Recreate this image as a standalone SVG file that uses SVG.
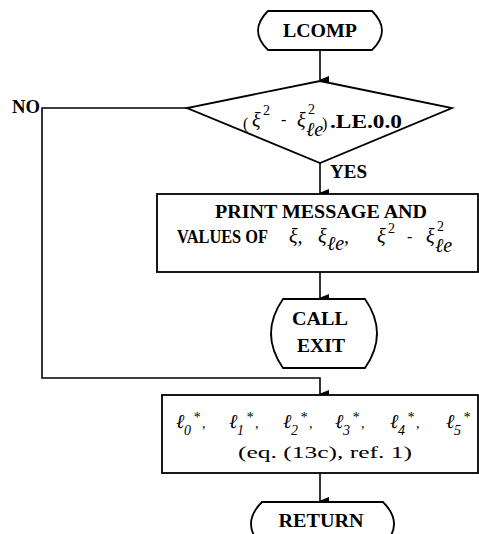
<svg xmlns="http://www.w3.org/2000/svg" width="479" height="534" viewBox="0 0 479 534">
<defs>
<marker id="ah" markerWidth="8" markerHeight="10" refX="4" refY="9" orient="auto-start-reverse" markerUnits="userSpaceOnUse" viewBox="0 0 8 10">
<path d="M0,0 L8,0 L4,10 Z" fill="#000"/>
</marker>
</defs>
<style>
.sh{fill:#fff;stroke:#000;stroke-width:1.8}
.ln{fill:none;stroke:#000;stroke-width:1.6}
.t{font-family:"Liberation Serif","DejaVu Serif",serif;font-weight:bold;font-size:18px;fill:#000}
.m{font-family:"Liberation Serif","DejaVu Serif",serif;font-style:italic;font-size:20px;fill:#000}
.s{font-family:"Liberation Serif","DejaVu Serif",serif;font-size:14px;fill:#000}
.r{font-family:"Liberation Serif","DejaVu Serif",serif;font-size:16px;fill:#000}
.c{text-anchor:middle}
</style>
<rect width="479" height="534" fill="#fff"/>
<g id="connectors">
<line class="ln" x1="320" y1="50" x2="320" y2="80" marker-end="url(#ah)"/>
<line class="ln" x1="320" y1="163" x2="320" y2="193" marker-end="url(#ah)"/>
<line class="ln" x1="320" y1="272" x2="320" y2="298" marker-end="url(#ah)"/>
<polyline class="ln" points="187,108 42,108 42,378 320,378 320,394" marker-end="url(#ah)"/>
<line class="ln" x1="320" y1="473" x2="320" y2="501" marker-end="url(#ah)"/>
<text class="t" x="12" y="113" textLength="28" lengthAdjust="spacingAndGlyphs">NO</text>
<text class="t" x="330" y="178" textLength="37" lengthAdjust="spacingAndGlyphs">YES</text>
</g>
<g id="lcomp">
<path class="sh" d="M268,11 L372,11 Q392,30.5 372,50 L268,50 Q248,30.5 268,11 Z"/>
<text class="t c" x="320" y="37" textLength="74" lengthAdjust="spacingAndGlyphs">LCOMP</text>
</g>
<g id="decision">
<path class="sh" d="M320,81 L452,108 L320,163 L187,108 Z"/>
<text class="r" x="243" y="129" font-size="30">(</text>
<text class="m" x="252" y="127">ξ</text>
<text class="s" x="263" y="115">2</text>
<text class="r" x="281" y="125">-</text>
<text class="m" x="297" y="127">ξ</text>
<text class="s" x="308" y="114">2</text>
<text class="m" x="306" y="136" font-size="13">ℓe</text>
<text class="r" x="322" y="129" font-size="30">)</text>
<text class="t" x="330" y="128" textLength="72" lengthAdjust="spacingAndGlyphs">.LE.0.0</text>
</g>
<g id="print">
<rect class="sh" x="157" y="194" width="321" height="78"/>
<text class="t" x="215" y="218" textLength="212" lengthAdjust="spacingAndGlyphs">PRINT MESSAGE AND</text>
<text class="t" x="177" y="243" textLength="91" lengthAdjust="spacingAndGlyphs">VALUES OF</text>
<text class="m" x="289" y="243">ξ,</text>
<text class="m" x="318" y="243">ξ</text>
<text class="m" x="327" y="250" font-size="13">ℓe</text>
<text class="m" x="344" y="243">,</text>
<text class="m" x="377" y="243">ξ</text>
<text class="s" x="388" y="233">2</text>
<text class="r" x="407" y="242">-</text>
<text class="m" x="426" y="243">ξ</text>
<text class="s" x="437" y="231">2</text>
<text class="m" x="435" y="252" font-size="13">ℓe</text>
</g>
<g id="callexit">
<path class="sh" d="M283,299 L365,299 Q389,333.5 365,368 L283,368 Q259,333.5 283,299 Z"/>
<text class="t c" x="320" y="325" textLength="56" lengthAdjust="spacingAndGlyphs">CALL</text>
<text class="t c" x="321" y="352" textLength="48" lengthAdjust="spacingAndGlyphs">EXIT</text>
</g>
<g id="lstar">
<rect class="sh" x="162" y="395" width="316" height="78"/>
<g class="m">
<text x="176" y="428">ℓ</text><text class="s" x="184" y="435" font-size="16">0</text><text class="s" x="193" y="422">*</text><text class="s" x="202" y="428">,</text>
<text x="229" y="428">ℓ</text><text class="s" x="237" y="435" font-size="16">1</text><text class="s" x="246" y="422">*</text><text class="s" x="255" y="428">,</text>
<text x="283" y="428">ℓ</text><text class="s" x="291" y="435" font-size="16">2</text><text class="s" x="300" y="422">*</text><text class="s" x="309" y="428">,</text>
<text x="335" y="428">ℓ</text><text class="s" x="343" y="435" font-size="16">3</text><text class="s" x="352" y="422">*</text><text class="s" x="361" y="428">,</text>
<text x="390" y="428">ℓ</text><text class="s" x="398" y="435" font-size="16">4</text><text class="s" x="407" y="422">*</text><text class="s" x="416" y="428">,</text>
<text x="446" y="428">ℓ</text><text class="s" x="454" y="435" font-size="16">5</text><text class="s" x="463" y="422">*</text>
</g>
<text class="r" x="238" y="458" textLength="174" lengthAdjust="spacingAndGlyphs">(eq. (13c), ref. 1)</text>
</g>
<g id="return">
<path class="sh" d="M262,502 L383,502 Q405,524 383,546 L262,546 Q240,524 262,502 Z"/>
<text class="t c" x="321" y="527" textLength="85" lengthAdjust="spacingAndGlyphs">RETURN</text>
</g>
</svg>
